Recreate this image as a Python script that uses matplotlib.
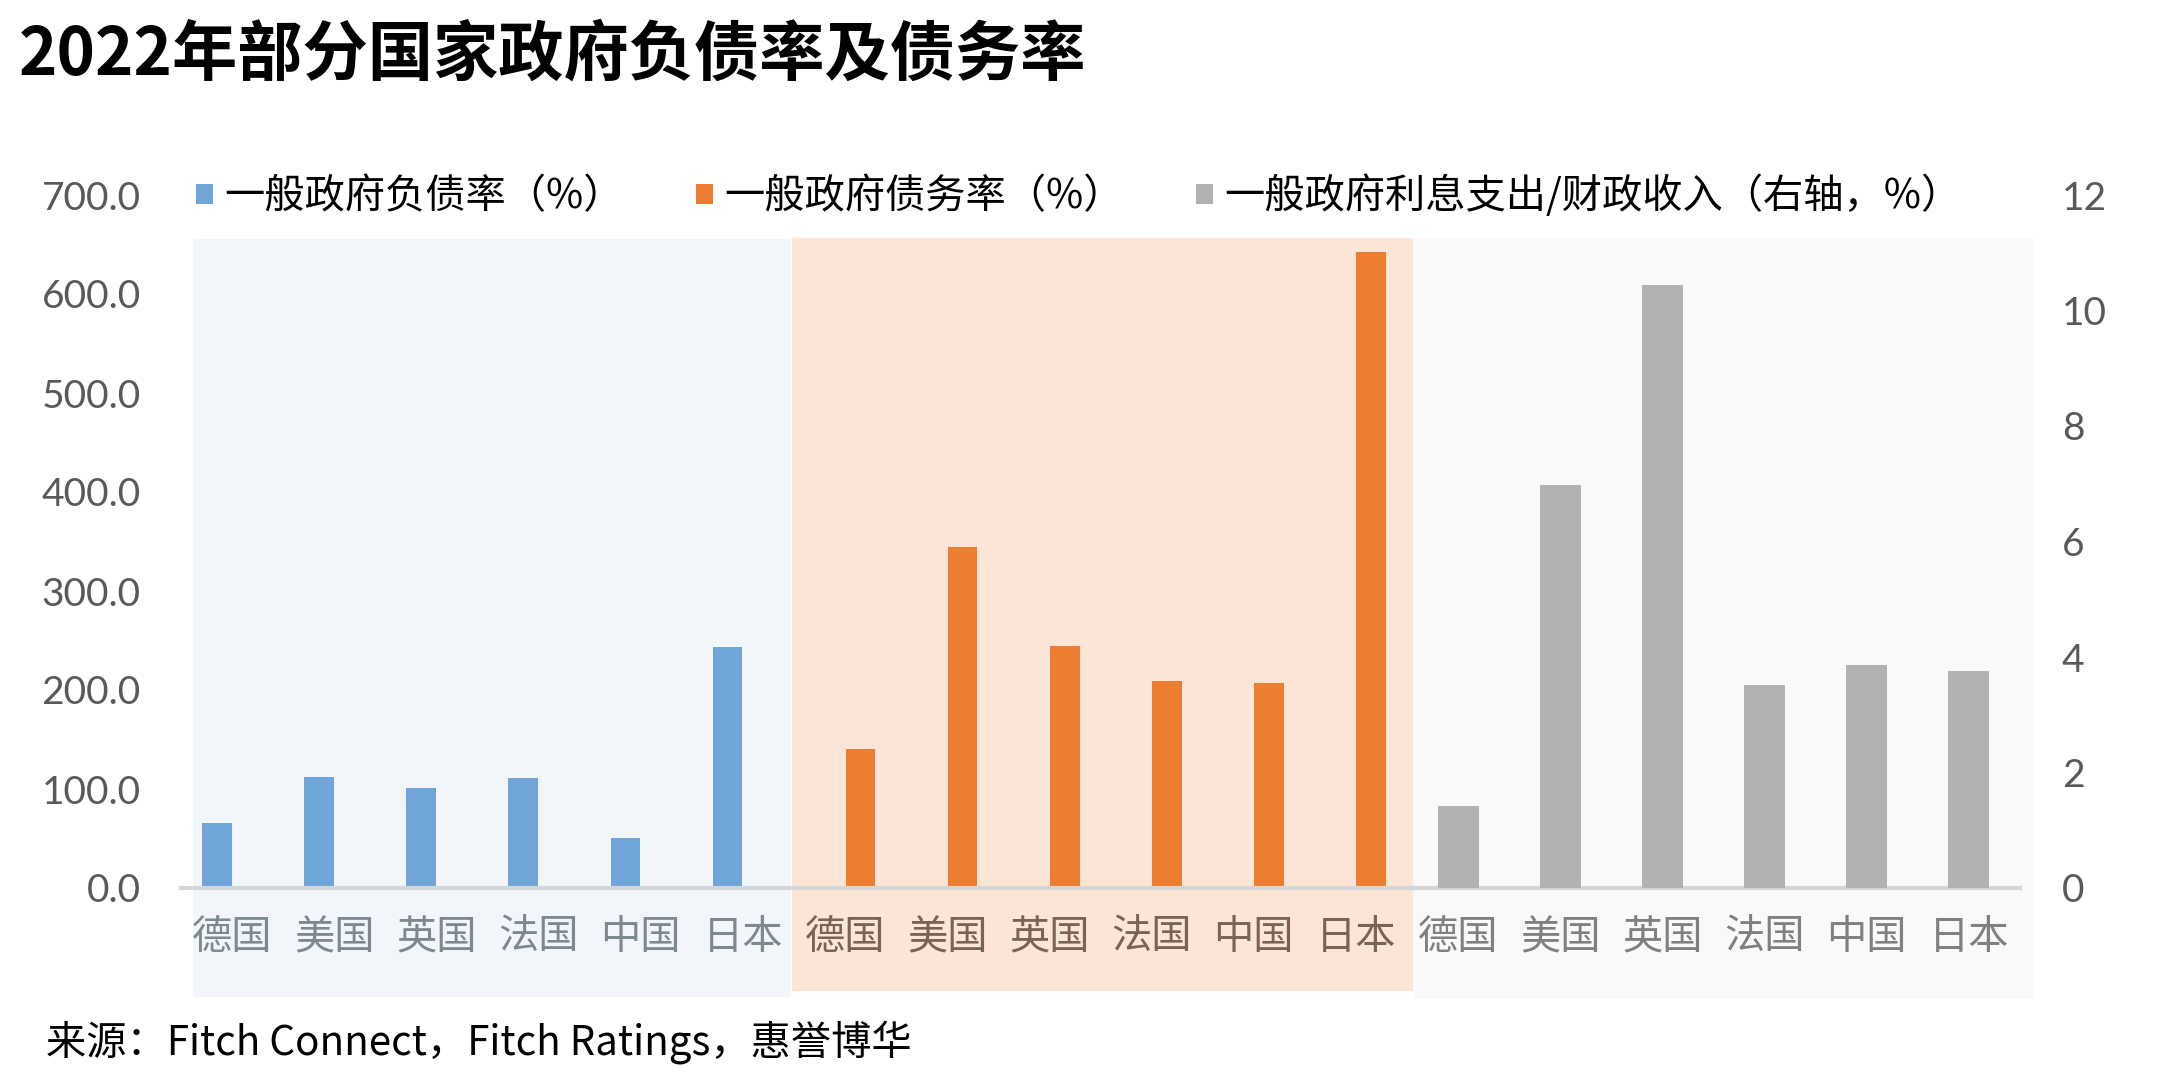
import numpy as np
import matplotlib.pyplot as plt
from matplotlib.patches import Rectangle

plt.rcParams['font.family'] = ['Noto Sans CJK SC', 'DejaVu Sans']

####### data
countries = ['德国', '美国', '英国', '法国', '中国', '日本']
debt_ratio = [65.4, 112.3, 101.0, 111.3, 50.5, 243.7]        # 一般政府负债率
liab_ratio = [140.6, 344.7, 244.7, 209.2, 207.1, 642.4]      # 一般政府债务率
interest_ratio = [1.42, 6.98, 10.45, 3.52, 3.87, 3.75]       # 利息支出/财政收入 (右轴)

series_names = ['一般政府负债率（%）', '一般政府债务率（%）',
                '一般政府利息支出/财政收入（右轴，%）']
left_ticks = [0, 100, 200, 300, 400, 500, 600, 700]
right_ticks = [0, 2, 4, 6, 8, 10, 12]
#######

W, H = 2173, 1085
fig = plt.figure(figsize=(W / 100, H / 100), dpi=100)


def fx(px):
    return px / W


def fy(py):
    return 1 - py / H


# background panels (pixel boxes: x0, x1, y_top, y_bottom)
panels = [(193, 791, 239, 997, '#F2F6FA'),
          (792, 1413, 238, 991, '#FBE5D7'),
          (1413, 2033, 238, 999, '#F9F9F9')]
for x0, x1, yt, yb, col in panels:
    fig.add_artist(Rectangle((fx(x0), fy(yb)), fx(x1) - fx(x0), fy(yt) - fy(yb),
                             transform=fig.transFigure, facecolor=col,
                             edgecolor='none', zorder=-5))

ax = fig.add_axes([fx(181), fy(888), fx(2020) - fx(181), fy(195) - fy(888)])
ax.patch.set_alpha(0)

n = len(countries)
pos_blue = np.arange(n)
pos_orange = np.arange(n, 2 * n)
pos_gray = np.arange(2 * n, 3 * n)

b1 = ax.bar(pos_blue - 0.15, debt_ratio, width=0.29, color='#6FA5D9', zorder=2)
b2 = ax.bar(pos_orange + 0.15, liab_ratio, width=0.29, color='#ED7D31', zorder=2)

ax.set_xlim(-0.5, 3 * n - 0.5)
ax.set_ylim(0, 700)
ax.set_yticks(left_ticks)
ax.set_yticklabels(['%.1f' % v for v in left_ticks], fontfamily='Lato',
                   fontsize=28, color='#595959')
ax.set_xticks(np.arange(3 * n))
ax.set_xticklabels(countries * 3, fontsize=29)
label_cols = ['#7E8891'] * n + ['#7A6254'] * n + ['#808080'] * n
for lab, c in zip(ax.get_xticklabels(), label_cols):
    lab.set_color(c)
ax.tick_params(axis='x', length=0, pad=21)
ax.tick_params(axis='y', length=0, pad=29)
for s in ['top', 'left', 'right']:
    ax.spines[s].set_visible(False)
ax.spines['bottom'].set_color('#D6D6D6')
ax.spines['bottom'].set_linewidth(3)
ax.spines['bottom'].set_zorder(3)

ax2 = ax.twinx()
b3 = ax2.bar(pos_gray, interest_ratio, width=0.4, color='#B2B2B2', zorder=2)
ax2.set_ylim(0, 12)
ax2.set_yticks(right_ticks)
ax2.set_yticklabels([str(v) for v in right_ticks], fontfamily='Lato',
                    fontsize=28, color='#595959')
ax2.tick_params(axis='y', length=0, pad=30)
for s in ax2.spines.values():
    s.set_visible(False)

leg = fig.legend([b1, b2, b3], series_names, loc='center left',
                 bbox_to_anchor=(fx(196), fy(196)), bbox_transform=fig.transFigure,
                 ncol=3, frameon=False, fontsize=29, handlelength=0.42,
                 handleheight=0.42, handletextpad=0.28, columnspacing=1.8,
                 borderpad=0, borderaxespad=0)

fig.text(fx(19), fy(55), '2022年部分国家政府负债率及债务率', fontsize=47,
         fontweight='bold', va='center', ha='left', color='black')
fig.text(fx(46), fy(1042), '来源：Fitch Connect，Fitch Ratings，惠誉博华',
         fontsize=29, va='center', ha='left', color='black')

plt.savefig('out.png', dpi=100)
